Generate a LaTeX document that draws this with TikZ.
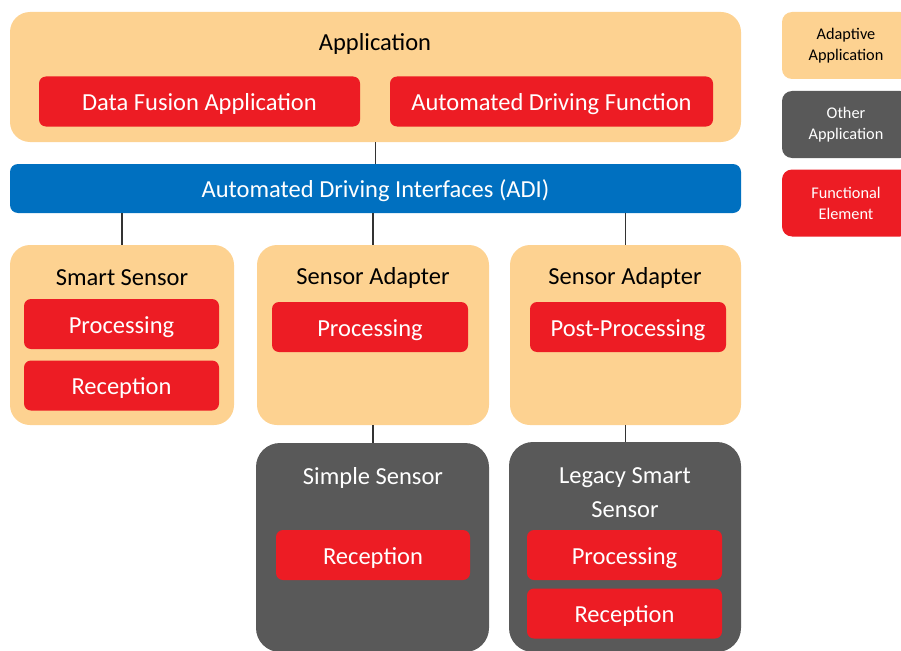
\documentclass[tikz,border=0pt]{standalone}
\usepackage{fontspec}
\setmainfont{Carlito}
\definecolor{adaptive}{HTML}{FDD291}
\definecolor{other}{HTML}{595959}
\definecolor{functional}{HTML}{ED1C24}
\definecolor{adiblue}{HTML}{0070C0}
\newcommand{\boxfont}{\fontsize{24.5}{34}\selectfont}
\newcommand{\legfont}{\fontsize{16.3}{21}\selectfont}
\begin{document}
\begin{tikzpicture}[x=1pt,y=-1pt,
   aa/.style={fill=adaptive,rounded corners=20pt,inner sep=0pt},
   oa/.style={fill=other,rounded corners=24pt,inner sep=0pt},
   fe/.style={fill=functional,rounded corners=7pt,text=white,font=\boxfont,minimum height=50pt,
              text height=23pt,text depth=5pt,inner sep=0pt},
   ttl/.style={font=\boxfont,inner sep=0pt,align=center},
   lgd/.style={minimum width=128pt,minimum height=67pt,rounded corners=10pt,align=center,font=\legfont,inner sep=0pt},
   conn/.style={draw=black!80,line width=1.2pt}]
   \useasboundingbox (0,0) rectangle (901,650);
   % application layer
   \node [aa,minimum width=731pt,minimum height=130pt] (app) at (375.5,77) {};
   \node [ttl] (apptitle) at (375,44) {Application};
   \node [fe,minimum width=321pt] (fusion) at (199.5,101.5) {Data Fusion Application};
   \node [fe,minimum width=323pt] (adfunc) at (551.5,101.5) {Automated Driving Function};
   % interfaces
   \node [fill=adiblue,rounded corners=8pt,minimum width=731pt,minimum height=49pt,
          text=white,font=\boxfont,text height=23pt,text depth=5pt,inner sep=0pt] (adi) at (375.5,188.5) {Automated Driving Interfaces (ADI)};
   % sensor layer
   \node [aa,minimum width=224pt,minimum height=180pt] (smart) at (122,335) {};
   \node [ttl] (smarttitle) at (122,278) {Smart Sensor};
   \node [fe,minimum width=195pt] (smartproc) at (121.5,324) {Processing};
   \node [fe,minimum width=195pt] (smartrec) at (121.5,385.5) {Reception};
   \node [aa,minimum width=232pt,minimum height=180pt] (adapt) at (373,335) {};
   \node [ttl] (adapttitle) at (373,278) {Sensor Adapter};
   \node [fe,minimum width=196pt] (adaptproc) at (370,327) {Processing};
   \node [aa,minimum width=231pt,minimum height=180pt] (adaptb) at (625.5,335) {};
   \node [ttl] (adaptbtitle) at (625,278) {Sensor Adapter};
   \node [fe,minimum width=196pt] (adaptbproc) at (628,327) {Post-Processing};
   % other applications
   \node [oa,minimum width=233pt,minimum height=209pt] (simple) at (372.5,547.5) {};
   \node [ttl,text=white] (simpletitle) at (373,478) {Simple Sensor};
   \node [fe,minimum width=194pt] (simplerec) at (373,555) {Reception};
   \node [oa,minimum width=232pt,minimum height=210pt] (legacy) at (625,547) {};
   \node [ttl,text=white] (legacytitle) at (625,493) {Legacy Smart\\Sensor};
   \node [fe,minimum width=195pt] (legacyproc) at (624.5,555) {Processing};
   \node [fe,minimum width=195pt] (legacyrec) at (624.5,613.5) {Reception};
   % connectors
   \draw [conn] (app) -- (adi);
   \draw [conn] (adi.south -| smart.north) -- (smart.north);
   \draw [conn] (adi.south -| adapt.north) -- (adapt.north);
   \draw [conn] (adi.south -| adaptb.north) -- (adaptb.north);
   \draw [conn] (adapt.south) -- (adapt.south |- simple.north);
   \draw [conn] (adaptb.south) -- (adaptb.south |- legacy.north);
   % legend
   \node [lgd,fill=adaptive] (lgdadaptive) at (846,45.5) {Adaptive\\Application};
   \node [lgd,fill=other,text=white] (lgdother) at (846,124.5) {Other\\Application};
   \node [lgd,fill=functional,text=white] (lgdfunc) at (846,203) {Functional\\Element};
\end{tikzpicture}
\end{document}
